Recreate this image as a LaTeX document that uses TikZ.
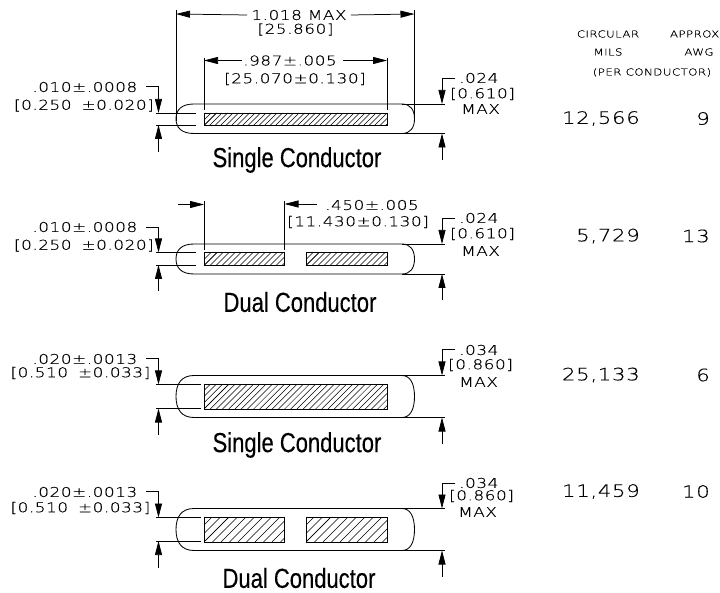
\documentclass[tikz,border=0pt]{standalone}
\usepackage{fontspec}
\setmainfont{Liberation Sans}
\usetikzlibrary{arrows.meta}
\newfontfamily\cadfont{DejaVu Sans ExtraLight}[LetterSpace=4,FakeStretch=1.25,FakeBold=0.3]
\newfontfamily\titlefont{Liberation Sans}[FakeStretch=0.8,FakeBold=0.25]
\tikzset{
  x=1pt,y=-1pt,
  dim/.style={line width=0.75pt,black},
  arr/.style={dim,-{Triangle[length=14pt,width=7pt]}},
  cad/.style={inner sep=0pt,font=\cadfont\fontsize{13.5}{13.5}\selectfont,text=black},
  cadbig/.style={inner sep=0pt,font=\cadfont\fontsize{17}{17}\selectfont,text=black},
  cadsm/.style={inner sep=0pt,font=\cadfont\fontsize{9.5}{9.5}\selectfont,text=black},
  title/.style={inner sep=0pt,font=\titlefont\fontsize{27.5}{27.5}\selectfont},
  body/.style={line width=0.85pt},
  cond/.style={line width=0.75pt}
}
\newcommand{\hatchbox}[5]{% x1 y1 x2 y2 spacing
  \begin{scope}
    \clip (#1,#2) rectangle (#3,#4);
    \foreach \k in {0,#5,...,260} {
      \draw[line width=0.5pt] ({#1+\k},#4) -- ({#1+\k+(#4-#2)*1.0},#2);
      \draw[line width=0.5pt] ({#1-\k},#4) -- ({#1-\k+(#4-#2)*1.0},#2);
    }
  \end{scope}
  \draw[cond] (#1,#2) rectangle (#3,#4);
}
\newcommand{\pill}[4]{% top, bottom, xstraightL, xstraightR
  \draw[body] (#3,#1) -- (#4,#1)
     .. controls ({#4+(414-#4)*0.7},#1) and (414.5,{#1+(#2-#1)*0.2}) .. (414.5,{(#1+#2)/2})
     .. controls (414.5,{#2-(#2-#1)*0.2}) and ({#4+(414-#4)*0.7},#2) .. (#4,#2) -- (#3,#2)
     .. controls ({#3-(#3-176)*0.7},#2) and (176,{#2-(#2-#1)*0.2}) .. (176,{(#1+#2)/2})
     .. controls (176,{#1+(#2-#1)*0.2}) and ({#3-(#3-176)*0.7},#1) .. (#3,#1) -- cycle;
}
\begin{document}
\begin{tikzpicture}
\path[use as bounding box,fill=white] (0,0) rectangle (720,593);

% ---- Row 1
\pill{104}{133.5}{194}{402}
\hatchbox{204}{113}{387}{125.5}{5.5}
\coordinate (a1) at (176,14);\coordinate (a2) at (414.5,14);
\draw[dim] (176,10) -- (176,121); \draw[dim] (414.5,10) -- (414.5,121);
\node[cad] (t1) at (299,15) {1.018 MAX};
\node[cad] (t2) at (295.5,29.5) {[25.860]};
\draw[arr] (t1.west)++(-4,0) -- (a1);
\draw[arr] (t1.east)++(4,0) -- (a2);
\draw[dim] (204,58) -- (204,110); \draw[dim] (387,58) -- (387,110);
\coordinate (b1) at (204,60.5);\coordinate (b2) at (387,60.5);
\node[cad] (t3) at (290,60.5) {.987±.005};
\node[cad] (t4) at (295,79) {[25.070±0.130]};
\draw[arr] (t3.west)++(-1,0) -- (b1);
\draw[arr] (t3.east)++(6,0) -- (b2);
% left dim
\node[cad,anchor=east] (l1) at (137.5,87) {.010±.0008};
\node[cad,anchor=east] (l2) at (154,105.5) {[0.250 \kern4pt±0.020]};
\draw[dim] (156,113) -- (196,113); \draw[dim] (156,125) -- (196,125);
\draw[arr] (146,86.5) -- (158.5,86.5) -- (158.5,113);
\draw[arr] (158.5,152) -- (158.5,125);
% right dim
\draw[dim] (402,104) -- (445,104); \draw[dim] (402,133.5) -- (445,133.5);
\draw[arr] (455,78) -- (442,78) -- (442,104);
\draw[arr] (442,160) -- (442,133.5);
\node[cad,anchor=west] (r1) at (459,78) {.024};
\node[cad,anchor=west] (r2) at (450,94) {[0.610]};
\node[cad,anchor=west] (r3) at (461,109) {MAX};
\node[title] (n1) at (297,160) {Single Conductor};
\node[cadbig,anchor=east] at (640,118.5) {12,566};
\node[cadbig,anchor=east] at (710,118.5) {9};
\node[cadsm] at (608,34) {CIRCULAR};
\node[cadsm] at (608,52) {MILS};
\node[cadsm,anchor=east] at (719.5,34) {APPROX};
\node[cadsm] at (699,52) {AWG};
\node[cadsm] at (652,72.5) {(PER CONDUCTOR)};

% ---- Row 2
\pill{244}{274}{194}{402}
\hatchbox{204}{252.5}{284.5}{265.5}{6}
\hatchbox{306}{252.5}{387}{265.5}{6}
\draw[dim] (204,201) -- (204,250); \draw[dim] (284.5,201) -- (284.5,250);
\draw[arr] (178,204.5) -- (204,204.5);
\draw[arr] (317,204) -- (284.5,204);
\node[cad,anchor=west] at (325,205) {.450±.005};
\node[cad,anchor=west] at (287,222) {[11.430±0.130]};
\node[cad,anchor=east] at (137.5,227) {.010±.0008};
\node[cad,anchor=east] at (154,245.5) {[0.250 \kern4pt±0.020]};
\draw[dim] (156,252.5) -- (196,252.5); \draw[dim] (156,265) -- (196,265);
\draw[arr] (146,227) -- (158.5,227) -- (158.5,252.5);
\draw[arr] (158.5,291) -- (158.5,265);
\draw[dim] (402,244) -- (445,244); \draw[dim] (402,274) -- (445,274);
\draw[arr] (455,218) -- (442,218) -- (442,244);
\draw[arr] (442,300) -- (442,274);
\node[cad,anchor=west] at (459,218) {.024};
\node[cad,anchor=west] at (450,234) {[0.610]};
\node[cad,anchor=west] at (461,251) {MAX};
\node[title] at (300,302) {Dual Conductor};
\node[cadbig,anchor=east] at (640,236) {5,729};
\node[cadbig,anchor=east] at (710,236) {13};

% ---- Row 3
\pill{375.5}{417.5}{194}{402}
\hatchbox{204}{384.5}{387}{409}{6.2}
\node[cad,anchor=east] at (137.5,359) {.020±.0013};
\node[cad,anchor=east] at (150.5,373) {[0.510 \kern4pt±0.033]};
\draw[dim] (156,384.5) -- (201,384.5); \draw[dim] (156,408.5) -- (201,408.5);
\draw[arr] (146,358.5) -- (158.5,358.5) -- (158.5,384.5);
\draw[arr] (158.5,435) -- (158.5,408.5);
\draw[dim] (402,375.5) -- (445,375.5); \draw[dim] (402,417.5) -- (445,417.5);
\draw[arr] (455,349.5) -- (442,349.5) -- (442,375.5);
\draw[arr] (442,444) -- (442,417.5);
\node[cad,anchor=west] at (459,350) {.034};
\node[cad,anchor=west] at (448,365) {[0.860]};
\node[cad,anchor=west] at (459,382) {MAX};
\node[title] at (297,445) {Single Conductor};
\node[cadbig,anchor=east] at (640,375) {25,133};
\node[cadbig,anchor=east] at (710,375) {6};

% ---- Row 4
\pill{508.5}{550.5}{194}{402}
\hatchbox{204}{517.5}{284.5}{542}{8.5}
\hatchbox{306}{517.5}{387}{542}{8.5}
\node[cad,anchor=east] at (137.5,492) {.020±.0013};
\node[cad,anchor=east] at (150.5,508) {[0.510 \kern4pt±0.033]};
\draw[dim] (156,517.5) -- (201,517.5); \draw[dim] (156,541) -- (201,541);
\draw[arr] (146,491) -- (158.5,491) -- (158.5,517.5);
\draw[arr] (158.5,568) -- (158.5,541);
\draw[dim] (402,508.5) -- (445,508.5); \draw[dim] (402,550.5) -- (445,550.5);
\draw[arr] (455,483) -- (442,483) -- (442,508.5);
\draw[arr] (442,577) -- (442,550.5);
\node[cad,anchor=west] at (459,483) {.034};
\node[cad,anchor=west] at (449,496) {[0.860]};
\node[cad,anchor=west] at (458,512) {MAX};
\node[title] at (299,578) {Dual Conductor};
\node[cadbig,anchor=east] at (640,491.5) {11,459};
\node[cadbig,anchor=east] at (710,491.5) {10};
\end{tikzpicture}
\end{document}
